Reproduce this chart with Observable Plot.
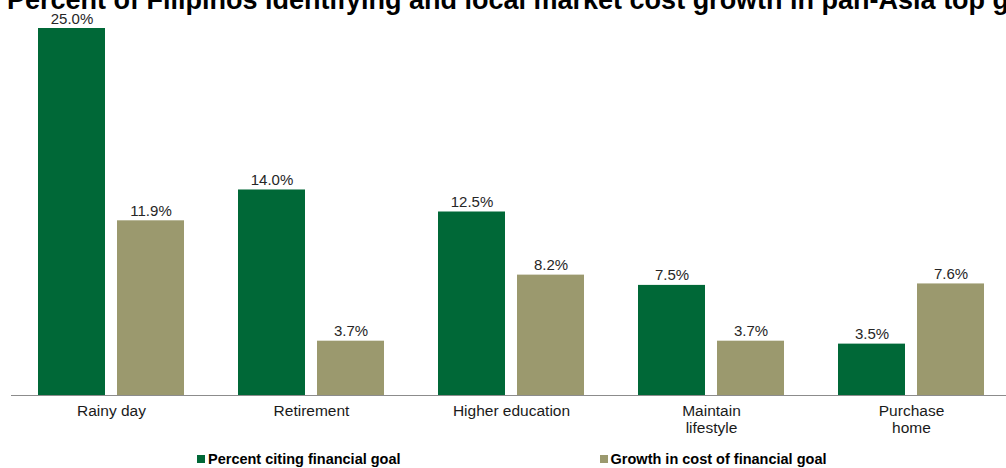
<!DOCTYPE html>
<html><head><meta charset="utf-8">
<script src="https://cdn.jsdelivr.net/npm/d3@7"></script>
<script src="https://cdn.jsdelivr.net/npm/@observablehq/plot@0.6"></script>
<style>
body{margin:0;background:#fff;overflow:hidden;font-family:"Liberation Sans",Arial,sans-serif}
#wrap{position:relative;width:1006px;height:468px;overflow:hidden}
#title{position:absolute;left:7px;top:-15px;line-height:30px;white-space:nowrap;font-weight:bold;font-size:27px;color:#000;z-index:2}
#chart{position:absolute;left:0;top:0}
#legend{position:absolute;top:451px;left:197px;display:flex;font-weight:bold;font-size:14.5px;color:#000;white-space:nowrap}
#legend .item{display:flex;align-items:center}
#legend .sw{display:inline-block;width:8px;height:8px;margin-right:3px}
</style></head><body>
<div id="wrap"><div id="title"></div><div id="chart"></div><div id="legend"></div></div>
<script>
const title = "Percent of Filipinos identifying and local market cost growth in pan-Asia top goals";
const categories = ["Rainy day","Retirement","Higher education","Maintain\nlifestyle","Purchase\nhome"];
const seriesNames = ["Percent citing financial goal","Growth in cost of financial goal"];
const percentCiting = [25.0,14.0,12.5,7.5,3.5];
const costGrowth = [11.9,3.7,8.2,3.7,7.6];
const seriesColors = ["#006837","#9b996e"];

const data = categories.flatMap((c,i)=>[
  {category:c, series:seriesNames[0], value:percentCiting[i]},
  {category:c, series:seriesNames[1], value:costGrowth[i]}
]);

document.getElementById("title").textContent = title;

const chart = Plot.plot({
  width:1006, height:445, marginTop:28, marginBottom:50, marginLeft:11, marginRight:0,
  style:{fontFamily:"'Liberation Sans', Arial, sans-serif", background:"transparent"},
  fx:{domain:categories, range:[11,1011], padding:0, axis:null},
  x:{domain:seriesNames, axis:null, insetLeft:27, insetRight:27, paddingInner:0.152, paddingOuter:0},
  y:{domain:[0,25], axis:null},
  color:{domain:seriesNames, range:seriesColors},
  marks:[
    Plot.barY(data,{fx:"category", x:"series", y:"value", fill:"series"}),
    Plot.text(data,{fx:"category", x:"series", y:"value", text:d=>d.value.toFixed(1)+"%", lineAnchor:"bottom", dy:-5, fontSize:15, fill:"#262626"}),
    Plot.ruleY([0],{stroke:"#8c8c8c", strokeWidth:1}),
    Plot.text(categories,{fx:d=>d, text:d=>d, frameAnchor:"bottom", lineAnchor:"top", dy:8, fontSize:15.5, lineHeight:1.12, fill:"#1a1a1a"})
  ]
});
document.getElementById("chart").appendChild(chart);

const legend = document.getElementById("legend");
seriesNames.forEach((s,i)=>{
  const item = document.createElement("div");
  item.className = "item";
  if (i > 0) item.style.marginLeft = "199px";
  const sw = document.createElement("span");
  sw.className = "sw";
  sw.style.background = seriesColors[i];
  item.appendChild(sw);
  item.appendChild(document.createTextNode(s));
  legend.appendChild(item);
});
</script>
</body></html>
